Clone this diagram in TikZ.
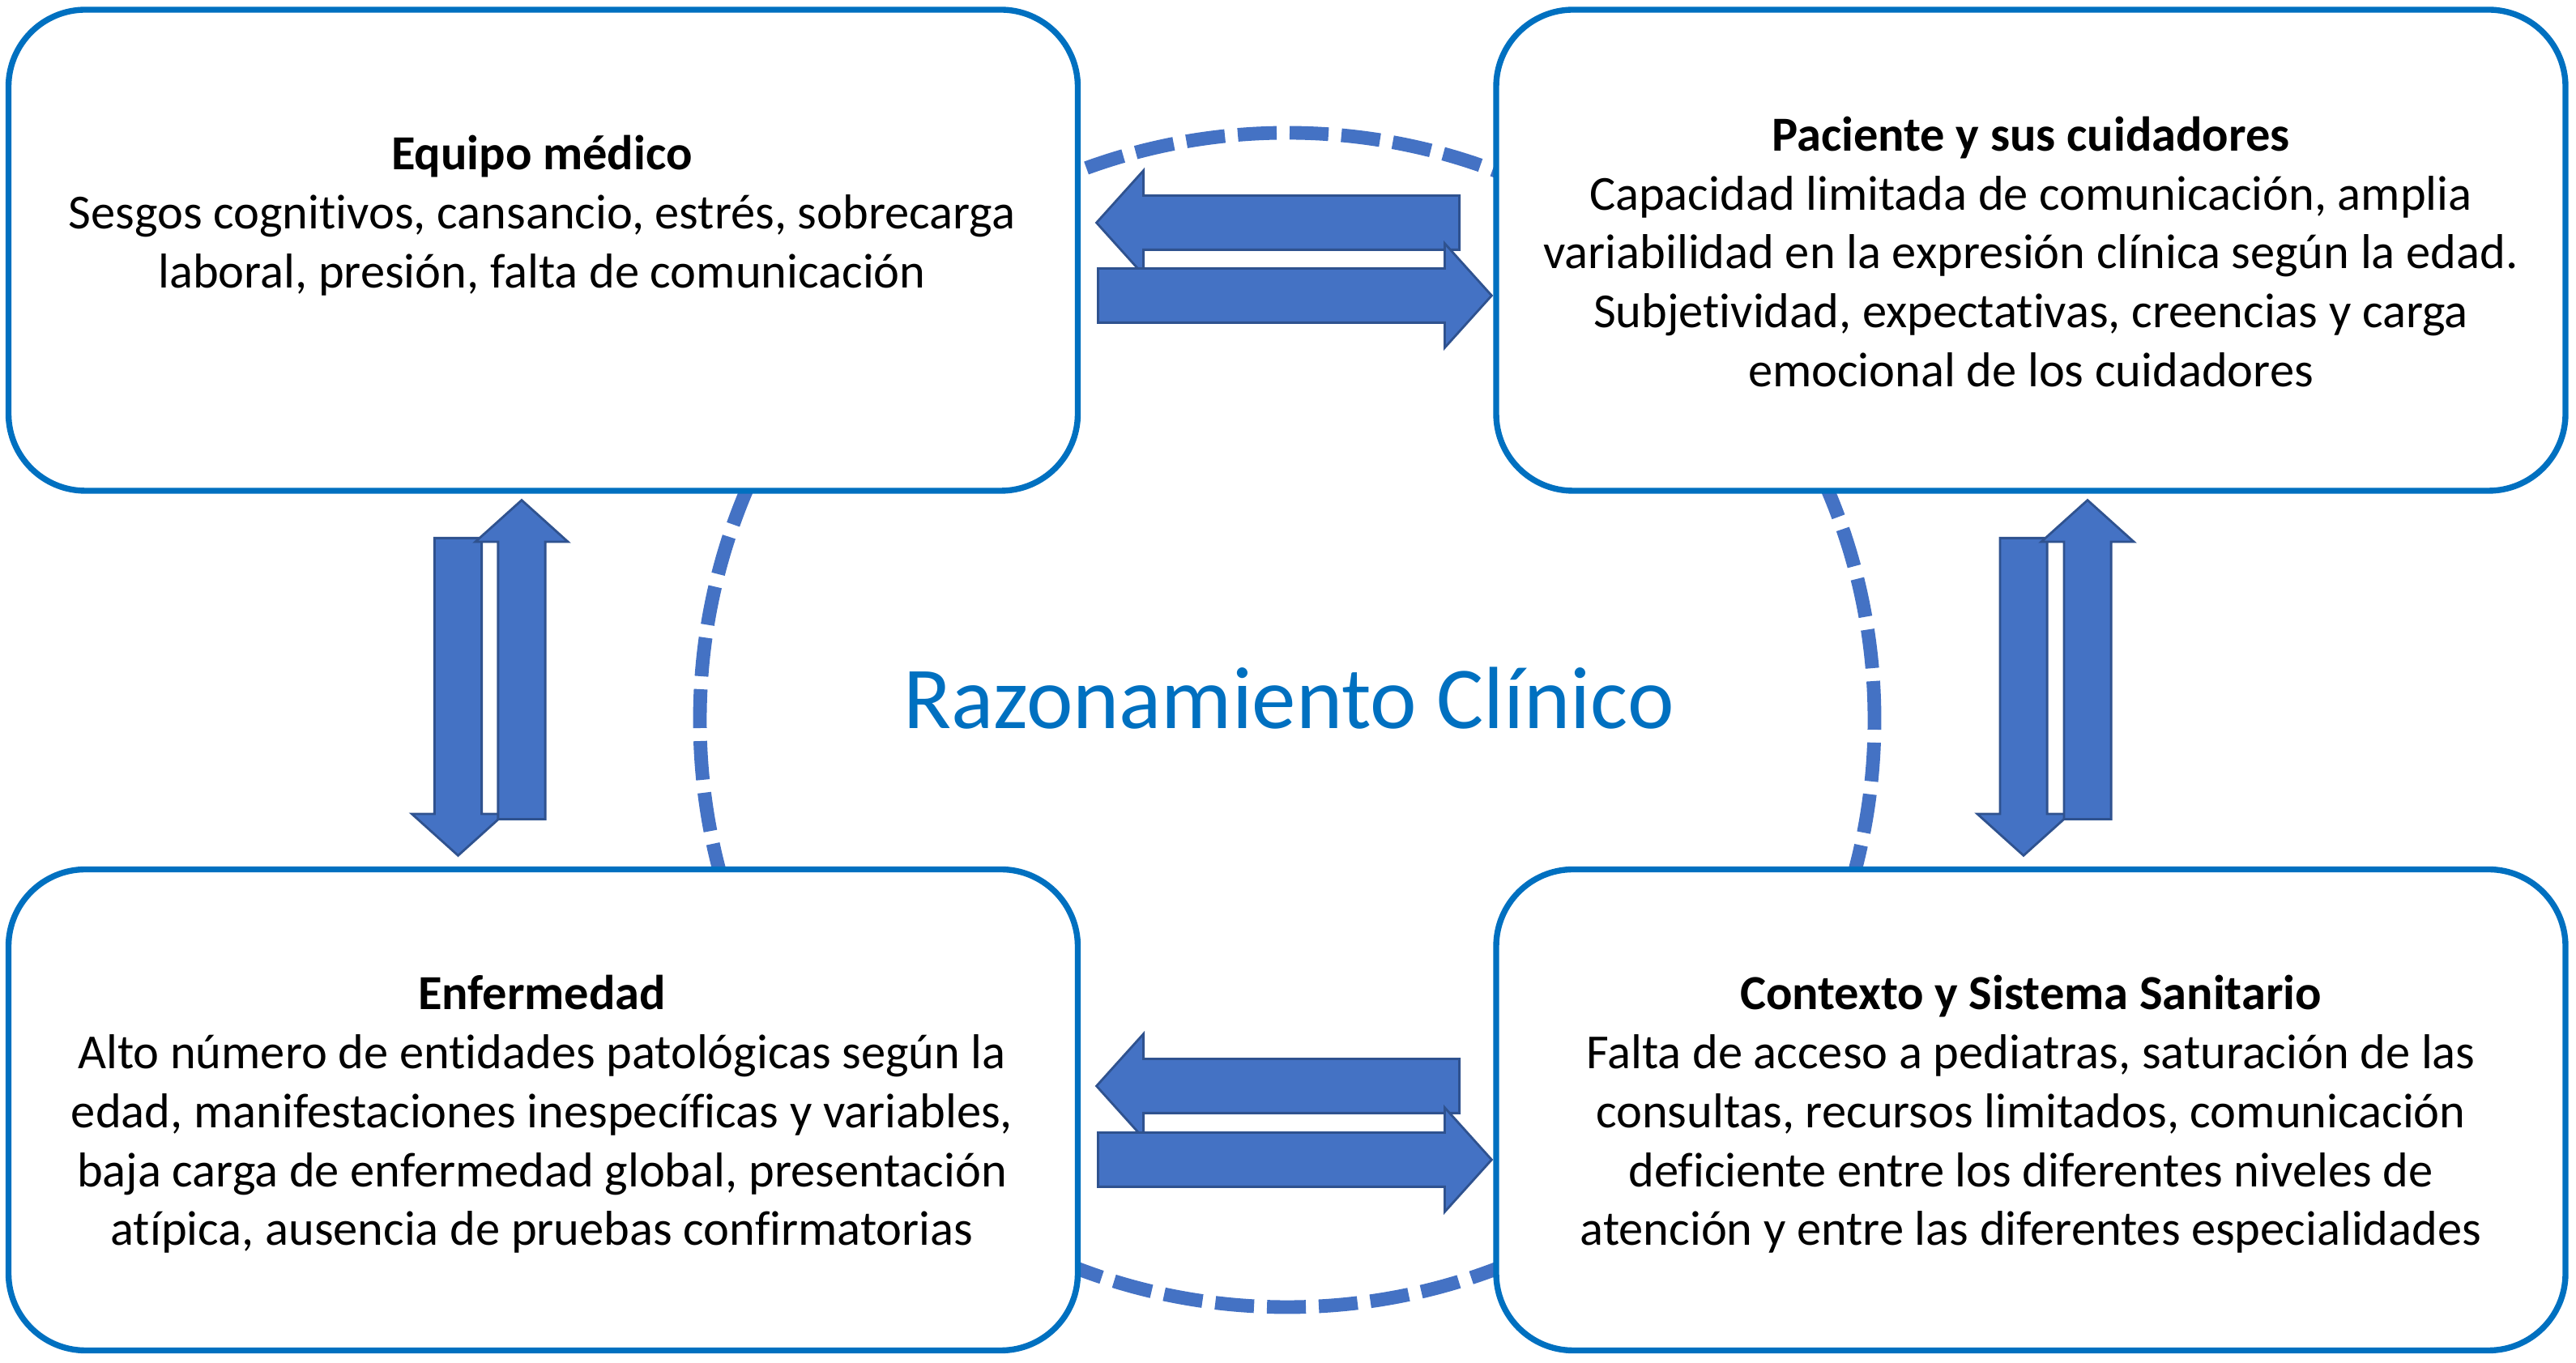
\documentclass[tikz,border=0pt]{standalone}
\usepackage{fontspec}
\setmainfont{Carlito}[Ligatures=NoCommon]
\usetikzlibrary{shapes.arrows}

\definecolor{boxblue}{HTML}{0070C0}
\definecolor{arrowblue}{HTML}{4472C4}
\definecolor{arrowedge}{HTML}{2F528F}

\tikzset{
	panel/.style={draw=boxblue, line width=2.1pt, fill=white, rounded corners=0.95cm,
		minimum width=13.2cm, minimum height=5.94cm},
	paneltext/.style={align=center, font=\fontsize{17.2}{20.7}\selectfont},
	harrow/.style={single arrow, fill=arrowblue, draw=arrowedge, line width=0.8pt,
		inner xsep=0pt, inner ysep=0.32cm, single arrow head extend=0.31cm,
		single arrow tip angle=96, anchor=tail},
	varrow/.style={harrow, inner ysep=0.277cm, single arrow head extend=0.28cm}
}

\begin{document}
\begin{tikzpicture}
		\useasboundingbox (0,0) rectangle (31.8,16.83);
		% ring behind the panels
		\draw[arrowblue, line width=4.8pt, dash pattern=on 4.8mm off 1.6mm] (15.89,7.94) circle (7.25);
		\node[font=\fontsize{31}{37}\selectfont, text=boxblue] (razon) at (15.91,8.21) {Razonamiento Clínico};

		\node[panel] (medico)     at ( 6.705,13.74) {};
		\node[panel] (paciente)   at (25.07,13.74)  {};
		\node[panel] (enfermedad) at ( 6.705,3.125) {};
		\node[panel] (contexto)   at (25.07,3.125)  {};

		\node[paneltext] (medico-txt) at (6.69,14.17)
			{\textbf{Equipo médico}\\
			Sesgos cognitivos, cansancio, estrés, sobrecarga\\
			laboral, presión, falta de comunicación};
		\node[paneltext] (paciente-txt) at (25.07,13.72)
			{\textbf{Paciente y sus cuidadores}\\
			Capacidad limitada de comunicación, amplia\\
			variabilidad en la expresión clínica según la edad.\\
			Subjetividad, expectativas, creencias y carga\\
			emocional de los cuidadores};
		\node[paneltext] (enfermedad-txt) at (6.69,3.07)
			{\textbf{Enfermedad}\\
			Alto número de entidades patológicas según la\\
			edad, manifestaciones inespecíficas y variables,\\
			baja carga de enfermedad global, presentación\\
			atípica, ausencia de pruebas confirmatorias};
		\node[paneltext] (contexto-txt) at (25.07,3.07)
			{\textbf{Contexto y Sistema Sanitario}\\
			Falta de acceso a pediatras, saturación de las\\
			consultas, recursos limitados, comunicación\\
			deficiente entre los diferentes niveles de\\
			atención y entre las diferentes especialidades};

		% two-way block arrows, placed by their tails
		\node[harrow, minimum height=4.48cm, rotate=180] (pm) at (18.03,14.08) {};
		\node[harrow, minimum height=4.86cm]             (mp) at (13.54,13.18) {};
		\node[harrow, minimum height=4.48cm, rotate=180] (ce) at (18.03,3.42)  {};
		\node[harrow, minimum height=4.86cm]             (ec) at (13.54,2.51)  {};
		\node[varrow, minimum height=3.92cm, rotate=-90] (me) at (5.655,10.20) {};
		\node[varrow, minimum height=3.94cm, rotate=90]  (em) at (6.44,6.70)   {};
		\node[varrow, minimum height=3.92cm, rotate=-90] (pc) at (24.98,10.20) {};
		\node[varrow, minimum height=3.94cm, rotate=90]  (cp) at (25.77,6.70)  {};
\end{tikzpicture}
\end{document}
